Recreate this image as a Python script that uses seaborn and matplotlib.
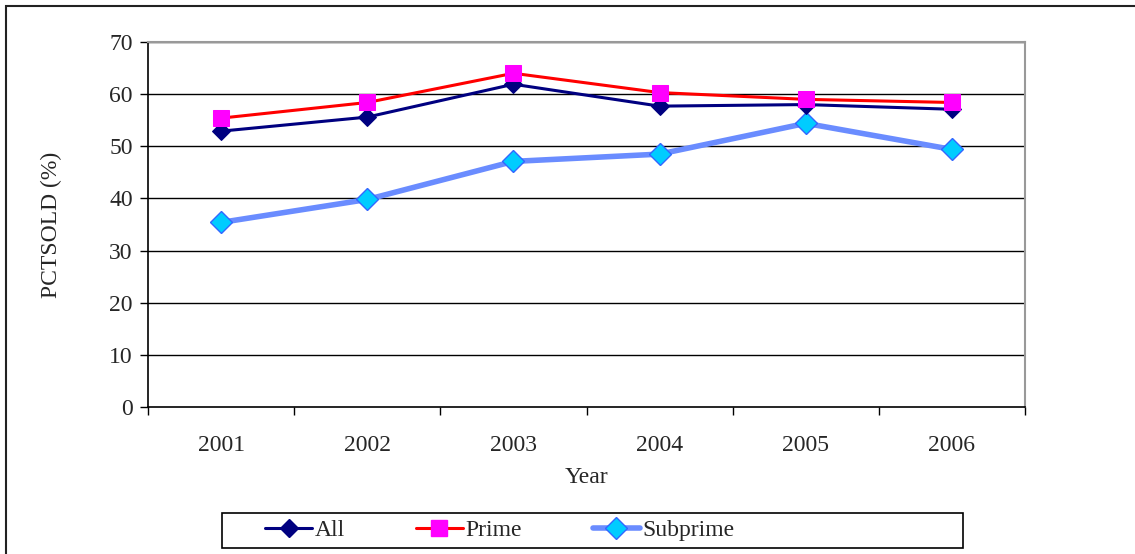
import numpy as np
import pandas as pd
import matplotlib
matplotlib.use("Agg")
import matplotlib.pyplot as plt
from matplotlib.patches import Rectangle
from matplotlib.lines import Line2D
import seaborn as sns

years = ["2001", "2002", "2003", "2004", "2005", "2006"]
all_loans = [52.9, 55.6, 61.9, 57.7, 58.0, 57.1]
prime = [55.4, 58.4, 64.0, 60.3, 59.0, 58.4]
subprime = [35.4, 39.8, 47.1, 48.5, 54.4, 49.4]
y_ticks = [0, 10, 20, 30, 40, 50, 60, 70]

sns.set_theme(style="white")
plt.rcParams["font.family"] = ["Liberation Serif", "DejaVu Serif"]

FS = 17

df = pd.DataFrame({"pos": np.arange(len(years)), "year": years,
                   "All": all_loans, "Prime": prime, "Subprime": subprime})

fig = plt.figure(figsize=(11.35, 5.54), dpi=100)
ax = fig.add_axes([148 / 1135, 1 - 407 / 554, (1025 - 148) / 1135, (407 - 42) / 554])

# outer chart frame
fig.patches.append(Rectangle((6 / 1135, -0.1), 1.2, 1 - 6 / 554 + 0.1,
                             transform=fig.transFigure, fill=False,
                             edgecolor="#222222", linewidth=1.5))

all_style = dict(color="#000080", linewidth=2.2, marker="D", markersize=9.5,
                 markerfacecolor="#000080", markeredgecolor="#000080")
prime_style = dict(color="#ff0000", linewidth=2.2, marker="s", markersize=11,
                   markerfacecolor="#ff00ff", markeredgecolor="#ff00ff")
sub_style = dict(color="#6a8cff", linewidth=4.0, marker="D", markersize=11,
                 markerfacecolor="#00ccff", markeredgecolor="#3366ff",
                 markeredgewidth=1.0)

sns.lineplot(data=df, x="pos", y="Subprime", ax=ax, zorder=3, **sub_style)
sns.lineplot(data=df, x="pos", y="All", ax=ax, zorder=4, **all_style)
sns.lineplot(data=df, x="pos", y="Prime", ax=ax, zorder=5, **prime_style)

ax.set_xlim(-0.5, len(years) - 0.5)
ax.set_ylim(0, 70)
ax.set_yticks(y_ticks)
ax.set_yticklabels([str(t) for t in y_ticks], fontsize=FS)
for t in y_ticks[1:]:
    ax.axhline(t, color="#000000", linewidth=1.0, zorder=1)

# category boundaries carry tick marks, labels sit at category centres
ax.set_xticks(np.arange(len(years) + 1) - 0.5)
ax.set_xticklabels([])
ax.set_xticks(np.arange(len(years)), minor=True)
ax.set_xticklabels(years, minor=True, fontsize=FS)
ax.tick_params(axis="x", which="major", direction="out", length=6, width=1, color="black", bottom=True)
ax.tick_params(axis="x", which="minor", length=0, pad=20)
ax.tick_params(axis="y", direction="out", length=6, width=1, color="black", left=True, pad=5)

ax.set_xlabel("Year", fontsize=FS, labelpad=8)
ax.set_ylabel("PCTSOLD (%)", fontsize=FS, labelpad=34)

for side in ["left", "bottom"]:
    ax.spines[side].set_color("black")
    ax.spines[side].set_linewidth(1.2)
for side in ["top", "right"]:
    ax.spines[side].set_color("#999999")
    ax.spines[side].set_linewidth(1.5)

# legend box
fig.patches.append(Rectangle((222 / 1135, 1 - 548 / 554), (963 - 222) / 1135, 35 / 554,
                             transform=fig.transFigure, fill=False,
                             edgecolor="black", linewidth=1.2))

handles = [Line2D([], [], **all_style), Line2D([], [], **prime_style),
           Line2D([], [], **sub_style)]
leg = fig.legend(handles, ["All", "Prime", "Subprime"], loc="center left",
                 bbox_to_anchor=(265 / 1135, 1 - 530 / 554), ncol=3, fontsize=FS,
                 frameon=False, handlelength=2.0, handletextpad=0.1,
                 columnspacing=3.0, borderpad=0, borderaxespad=0)

fig.savefig("out.png", dpi=100)
